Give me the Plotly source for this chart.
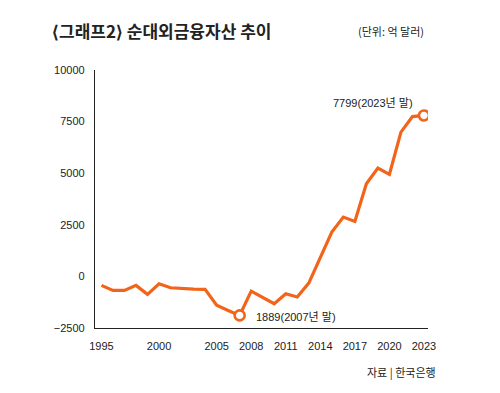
import plotly.graph_objects as go

years = list(range(1995, 2024))
values = [-436, -680, -680, -436, -870, -355, -550, -600, -620, -630,
          -1400, -1650, -1889, -712, -1010, -1323, -840, -1000, -323, 905,
          2146, 2873, 2665, 4491, 5247, 4942, 6991, 7744, 7799]
xticks = [1995, 2000, 2005, 2008, 2011, 2014, 2017, 2020, 2023]
yticks = [-2500, 0, 2500, 5000, 7500, 10000]
ytick_labels = ["−2500", "0", "2500", "5000", "7500", "10000"]
highlight_years = [2007, 2023]
highlight_values = [-1889, 7799]

ORANGE = "#F26419"
FONT = "Liberation Sans, Noto Sans CJK KR, sans-serif"

# page body has an 8px offset; positions below compensate for it
OFF = 8
W, H = 500, 393
l, r, t, b = 95 - OFF, 72 + OFF, 70 - OFF, 65 + OFF

fig = go.Figure()
fig.add_trace(go.Scatter(x=years, y=values, mode="lines",
                         line=dict(color=ORANGE, width=3.2), hoverinfo="skip"))
fig.add_trace(go.Scatter(x=highlight_years, y=highlight_values, mode="markers",
                         marker=dict(size=10, color="white",
                                     line=dict(color=ORANGE, width=2.6)),
                         hoverinfo="skip"))

fig.update_layout(
    width=W, height=H,
    margin=dict(l=l, r=r, t=t, b=b),
    paper_bgcolor="white", plot_bgcolor="white",
    showlegend=False,
    font=dict(family=FONT, size=11, color="#222"),
    xaxis=dict(range=[1994.44, 2023.35], tickvals=xticks,
               ticktext=[str(v) for v in xticks],
               showgrid=False, zeroline=False, showline=True,
               linecolor="#222", linewidth=1.2, ticks="", ticklen=0,
               automargin=False, ticklabelstandoff=8,
               tickfont=dict(size=11, color="#222")),
    yaxis=dict(range=[-2500, 10000], tickvals=yticks, ticktext=ytick_labels,
               showgrid=False, zeroline=False, showline=True,
               linecolor="#222", linewidth=1.2, ticks="", ticklen=0,
               automargin=False, ticklabelstandoff=7,
               tickfont=dict(size=11, color="#222")),
)

pw, ph = W - l - r, H - t - b
def px(xp): return (xp - OFF - l) / pw
def py(yp): return (H - b - (yp - OFF)) / ph

fig.add_annotation(x=2023, y=7799, xref="x", yref="y", text="7799(2023년 말)",
                   showarrow=False, xanchor="right", yanchor="middle",
                   xshift=-9, yshift=12,
                   font=dict(size=11, color="#222", family=FONT))
fig.add_annotation(x=2007, y=-1889, xref="x", yref="y", text="1889(2007년 말)",
                   showarrow=False, xanchor="left", yanchor="middle",
                   xshift=14, yshift=-2,
                   font=dict(size=11, color="#222", family=FONT))
fig.add_annotation(x=px(50), y=py(31), xref="paper", yref="paper",
                   text="<b>⟨그래프2⟩ 순대외금융자산 추이</b>",
                   showarrow=False, xanchor="left", yanchor="middle",
                   font=dict(size=17, color="#222", family="Noto Sans CJK KR"))
fig.add_annotation(x=px(426), y=py(31), xref="paper", yref="paper",
                   text="(단위: 억 달러)", showarrow=False,
                   xanchor="right", yanchor="middle",
                   font=dict(size=11, color="#222", family="Noto Sans CJK KR"))
fig.add_annotation(x=px(438), y=py(372), xref="paper", yref="paper",
                   text="자료 | 한국은행", showarrow=False,
                   xanchor="right", yanchor="middle",
                   font=dict(size=11, color="#222", family="Noto Sans CJK KR"))

fig.write_html("out.html")
